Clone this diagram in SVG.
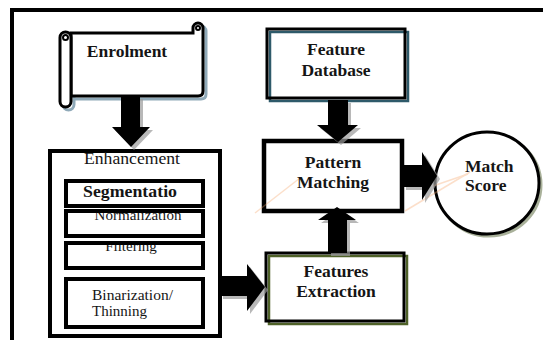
<svg xmlns="http://www.w3.org/2000/svg" width="543" height="340" viewBox="0 0 543 340">
<style>
.t{font-family:"Liberation Serif","Times New Roman",serif;fill:#151515}
.b{font-weight:bold;font-size:17.5px;text-anchor:middle}
.r{font-size:15px}
.arr{fill:#000}
.sh{fill:#9a9a9a;opacity:0.7}
.box{fill:#fff;stroke:#000}
</style>
<rect width="543" height="340" fill="#fff"/>
<rect x="12" y="10" width="545" height="345" fill="none" stroke="#000" stroke-width="4"/>

<g id="enrolment">
  <g transform="translate(3,3)" fill="none" stroke="#8fa9b8" stroke-width="3">
    <path d="M71,33 H193 V28 A5,5 0 0 1 203,28 V91 Q203,96 198,96 H71"/>
    <rect x="60" y="32" width="11" height="75" rx="5.5"/>
  </g>
  <path d="M71,33 H193 V28 A5,5 0 0 1 203,28 V91 Q203,96 198,96 H71 Z" fill="#fff" stroke="#000" stroke-width="3"/>
  <rect x="60" y="32" width="11" height="75" rx="5.5" fill="#fff" stroke="#000" stroke-width="3"/>
  <circle cx="65.5" cy="37.5" r="2.5" fill="none" stroke="#000" stroke-width="2"/>
  <circle cx="198" cy="28" r="2" fill="none" stroke="#000" stroke-width="2"/>
  <text class="t b" x="127" y="57">Enrolment</text>
</g>

<g id="enhancement">
  <rect class="box" x="50" y="151" width="170" height="185" stroke-width="4"/>
  <text class="t" x="132" y="164" font-size="17" text-anchor="middle" textLength="96" lengthAdjust="spacingAndGlyphs">Enhancement</text>
  <text class="t" x="130" y="197" font-size="17.5" font-weight="bold" text-anchor="middle" textLength="94" lengthAdjust="spacingAndGlyphs">Segmentatio</text>
  <text class="t r" x="138" y="219.5" text-anchor="middle" textLength="87" lengthAdjust="spacingAndGlyphs">Normalization</text>
  <text class="t r" x="131" y="251" text-anchor="middle">Filtering</text>
  <text class="t r" x="92" y="300" textLength="81" lengthAdjust="spacingAndGlyphs">Binarization/</text>
  <text class="t r" x="92" y="316">Thinning</text>
  <g fill="none" stroke="#000" stroke-width="4">
    <rect x="66" y="181" width="137" height="25"/>
    <rect x="66" y="211" width="137" height="25"/>
    <rect x="66" y="243" width="137" height="25"/>
    <rect x="66" y="279" width="137" height="48"/>
  </g>
</g>

<g id="feature-database">
  <rect x="267" y="29" width="138" height="69" fill="#fff"/>
  <rect x="270" y="32" width="138" height="69" fill="none" stroke="#2e5a6a" stroke-width="2.5"/>
  <rect x="267" y="29" width="138" height="69" fill="none" stroke="#000" stroke-width="3"/>
  <text class="t b" x="336" y="55">Feature</text>
  <text class="t b" x="336" y="76">Database</text>
</g>

<g id="pattern-matching">
  <rect class="box" x="264" y="141" width="138" height="70" stroke-width="4.5"/>
</g>

<g id="features-extraction">
  <rect x="266" y="253" width="138" height="68" fill="#fff"/>
  <rect x="269" y="256" width="138" height="68" fill="none" stroke="#4f6228" stroke-width="2.5"/>
  <rect x="266" y="253" width="138" height="68" fill="none" stroke="#000" stroke-width="3"/>
  <text class="t b" x="336" y="277">Features</text>
  <text class="t b" x="336" y="297">Extraction</text>
</g>

<g id="match-score">
  <ellipse cx="489" cy="185" rx="52" ry="51" fill="none" stroke="#a9b19a" stroke-width="3"/>
  <ellipse cx="487" cy="183" rx="52" ry="51" fill="#fff" stroke="#000" stroke-width="3"/>
</g>

<g id="artifact" fill="none" stroke="#f7a66a" stroke-width="1.5" opacity="0.35">
  <polyline points="255,213 300,178"/>
  <polyline points="405,211 470,172"/>
  <polyline points="433,186 468,174"/>
</g>

<g id="pm-text">
  <text class="t b" x="333" y="168">Pattern</text>
  <text class="t b" x="333" y="188">Matching</text>
</g>
<g id="ms-text">
  <text class="t" x="465" y="172" font-size="17.5" font-weight="bold">Match</text>
  <text class="t" x="465" y="191" font-size="17.5" font-weight="bold">Score</text>
</g>

<g id="connectors">
  <g transform="translate(3,3)">
    <polygon class="sh" points="121,96 140,96 140,127 150,127 131,147 112,127 121,127"/>
    <polygon class="sh" points="328,100 348,100 348,125 358,125 338,142 317,125 328,125"/>
    <polygon class="sh" points="328,253 347,253 347,220 356,220 337,207 318,220 328,220"/>
    <polygon class="sh" points="403,165 422,165 422,152 437,176 422,200 422,187 403,187"/>
    <polygon class="sh" points="220,276 247,276 247,264 265,287 247,311 247,296 220,296"/>
  </g>
  <polygon class="arr" points="121,96 140,96 140,127 150,127 131,147 112,127 121,127"/>
  <polygon class="arr" points="328,100 348,100 348,125 358,125 338,142 317,125 328,125"/>
  <polygon class="arr" points="328,253 347,253 347,220 356,220 337,207 318,220 328,220"/>
  <polygon class="arr" points="403,165 422,165 422,152 437,176 422,200 422,187 403,187"/>
  <polygon class="arr" points="220,276 247,276 247,264 265,287 247,311 247,296 220,296"/>
</g>
</svg>
